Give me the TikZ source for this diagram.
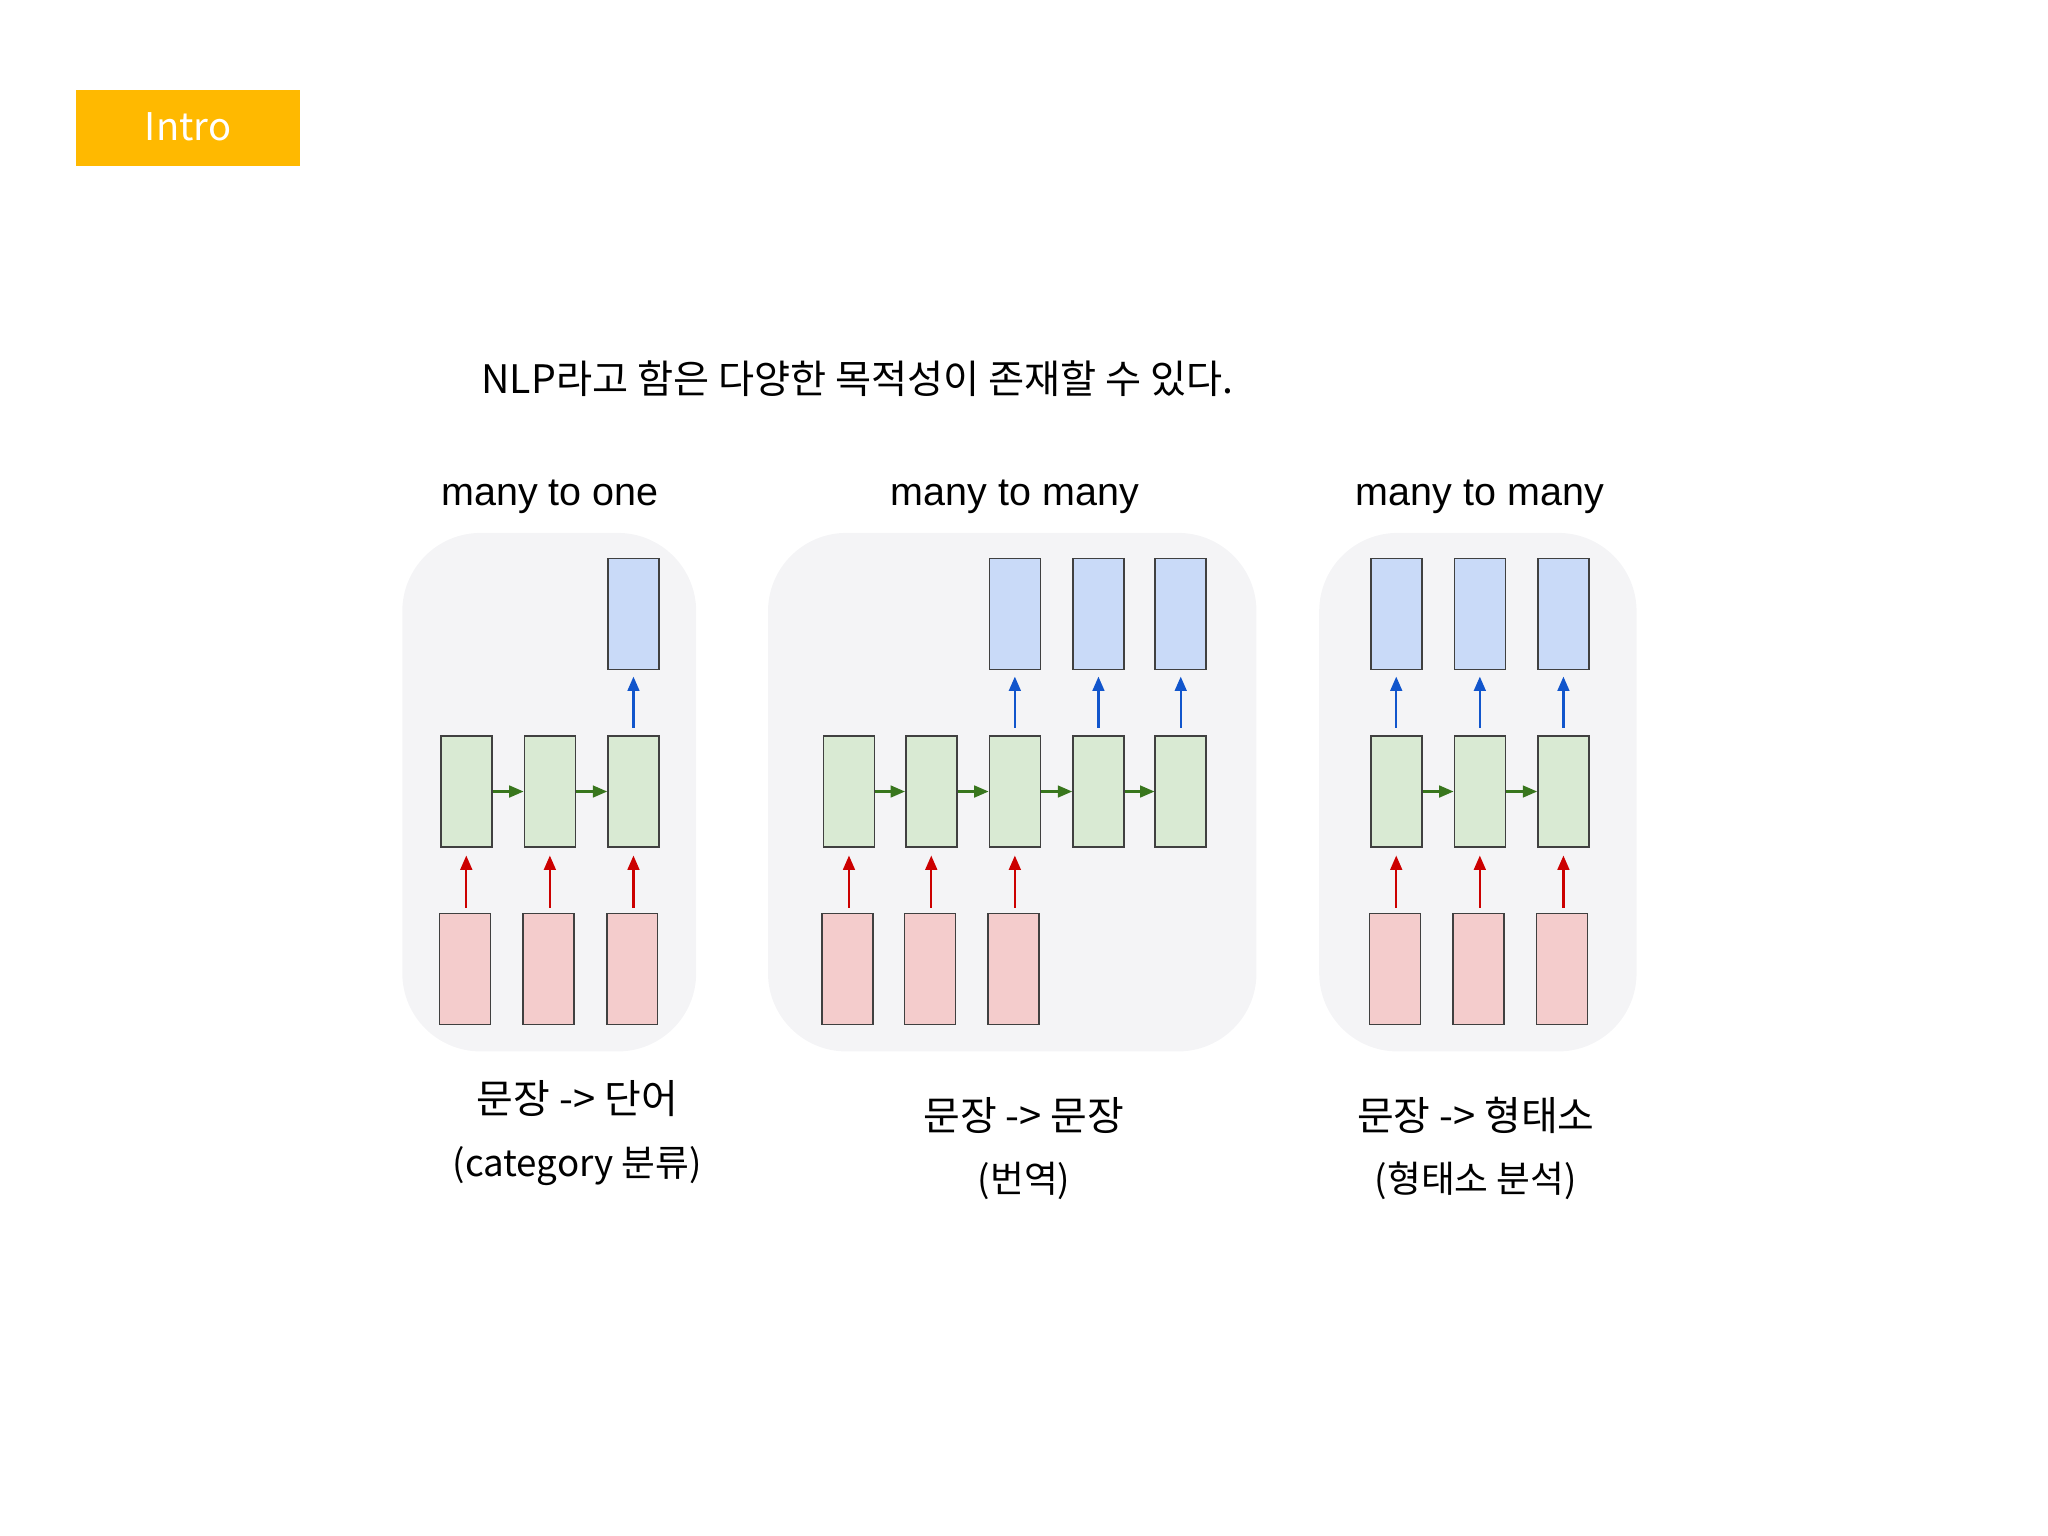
\documentclass[tikz,border=0pt]{standalone}
\usepackage{fontspec}
\setmainfont{Noto Sans CJK KR}
\newfontfamily\arial{Liberation Sans}
\usetikzlibrary{arrows.meta}
\definecolor{introc}{HTML}{FFB900}
\definecolor{panelc}{HTML}{F4F4F6}
\definecolor{gf}{HTML}{D9EAD3}\definecolor{rf}{HTML}{F4CCCC}\definecolor{bf}{HTML}{C9DAF8}
\definecolor{ga}{HTML}{38761D}\definecolor{ra}{HTML}{CC0000}\definecolor{ba}{HTML}{1155CC}
\begin{document}
\begin{tikzpicture}[x=0.1mm,y=-0.1mm,
 cell/.style={draw=black!75,line width=0.35pt,minimum width=3.9mm,minimum height=8.5mm,inner sep=0pt},
 gc/.style={cell,fill=gf},rc/.style={cell,fill=rf},bc/.style={cell,fill=bf},
 arr/.style={-{Triangle[length=1.1mm,width=0.9mm]},line width=0.5pt},
 panel/.style={fill=panelc,rounded corners=6mm},
 head/.style={font=\arial\fontsize{8.6pt}{10pt}\selectfont},
 captxt/.style={font=\fontsize{8.7pt}{10pt}\selectfont},
 subtxt/.style={font=\fontsize{8pt}{9pt}\selectfont}]
\useasboundingbox (0,0) rectangle (1568,1176);
\fill[introc] (58,69) rectangle (230,127);
\node[text=white,font=\fontsize{8.3pt}{10pt}\selectfont] (intro) at (144,97) {Intro};
\node[anchor=west,inner sep=0pt,font=\fontsize{8.55pt}{10pt}\selectfont] (title) at (368,290) {NLP라고 함은 다양한 목적성이 존재할 수 있다.};
\fill[panel] (308,408) rectangle (533,805);
\fill[panel] (588,408) rectangle (962,805);
\fill[panel] (1010,408) rectangle (1253,805);
\node[head] (h1) at (421,380) {many to one};
\node[head] (h2) at (777,380) {many to many};
\node[head] (h3) at (1133,380) {many to many};
% panel 1
\foreach \i/\x in {1/357,2/421,3/485}{
 \node[gc] (ga\i) at (\x,606) {};
 \node[rc] (ra\i) at (\x-1,742) {};
 \draw[arr,ra] (\x,695) -- (\x,655);
}
\node[bc] (ba3) at (485,470) {};
\draw[arr,ba] (485,557) -- (485,518);
\draw[arr,ga] (ga1) -- (ga2); \draw[arr,ga] (ga2) -- (ga3);
% panel 2
\foreach \i/\x in {1/650,2/713,3/777,4/841,5/904}{\node[gc] (gb\i) at (\x,606) {};}
\foreach \i/\x in {1/650,2/713,3/777}{\node[rc] (rb\i) at (\x-1,742) {};
 \draw[arr,ra] (\x,695) -- (\x,655);}
\foreach \i/\x in {3/777,4/841,5/904}{\node[bc] (bb\i) at (\x,470) {};
 \draw[arr,ba] (\x,557) -- (\x,518);}
\foreach \a/\b in {1/2,2/3,3/4,4/5}{\draw[arr,ga] (gb\a) -- (gb\b);}
% panel 3
\foreach \i/\x in {1/1069,2/1133,3/1197}{
 \node[gc] (gc\i) at (\x,606) {};
 \node[rc] (rc\i) at (\x-1,742) {};
 \node[bc] (bc\i) at (\x,470) {};
 \draw[arr,ra] (\x,695) -- (\x,655);
 \draw[arr,ba] (\x,557) -- (\x,518);
}
\draw[arr,ga] (gc1) -- (gc2); \draw[arr,ga] (gc2) -- (gc3);
\node[captxt] (c1) at (442,841) {문장 -> 단어};
\node[subtxt] (s1) at (442,893) {(category 분류)};
\node[captxt] (c2) at (784,854) {문장 -> 문장};
\node[subtxt] (s2) at (784,904) {(번역)};
\node[captxt] (c3) at (1130,854) {문장 -> 형태소};
\node[subtxt] (s3) at (1130,904) {(형태소 분석)};
\end{tikzpicture}
\end{document}
